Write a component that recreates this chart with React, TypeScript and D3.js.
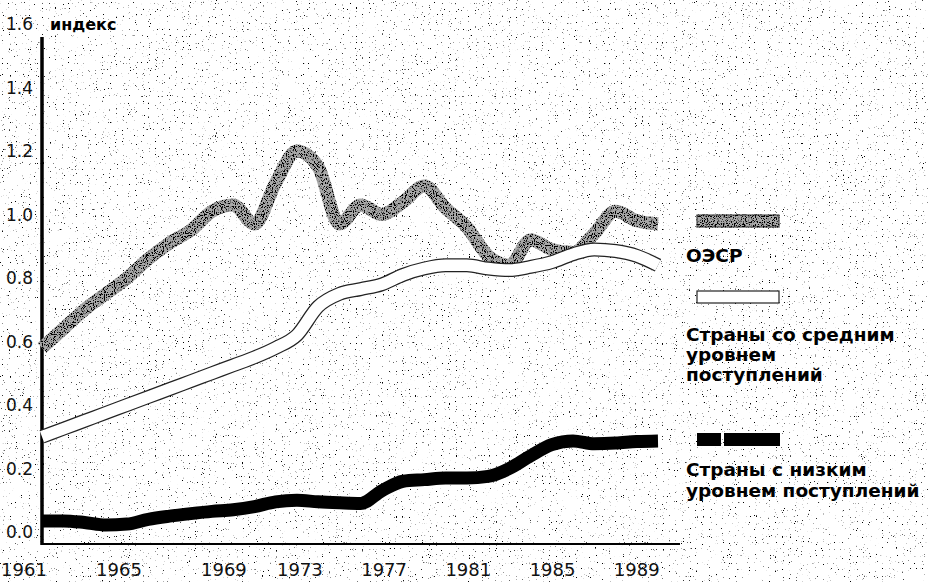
import React from "react";
import * as d3 from "d3";

const years = [1961,1962,1963,1964,1965,1966,1967,1968,1969,1970,1971,1972,1973,1974,1975,1976,1977,1978,1979,1980,1981,1982,1983,1984,1985,1986,1987,1988,1989,1990];
const oecd = [0.58,0.64,0.70,0.75,0.80,0.86,0.91,0.95,1.01,1.03,0.97,1.10,1.20,1.15,0.97,1.03,1.00,1.04,1.09,1.02,0.96,0.87,0.84,0.92,0.89,0.88,0.94,1.01,0.98,0.97];
const middleIncome = [0.30,0.325,0.35,0.375,0.40,0.425,0.45,0.475,0.50,0.525,0.55,0.58,0.62,0.71,0.75,0.765,0.78,0.81,0.83,0.84,0.84,0.83,0.825,0.835,0.85,0.875,0.89,0.885,0.87,0.84];
const lowIncome = [0.035,0.035,0.03,0.022,0.025,0.04,0.05,0.058,0.065,0.07,0.08,0.095,0.10,0.095,0.092,0.09,0.13,0.16,0.165,0.17,0.17,0.175,0.20,0.24,0.275,0.287,0.278,0.28,0.285,0.287];
const yTicks = [0, 0.2, 0.4, 0.6, 0.8, 1.0, 1.2, 1.4, 1.6];
const xTickYears = [1961, 1965, 1969, 1973, 1977, 1981, 1985, 1989];
const yAxisTitle = "индекс";
const legendOecd = ["ОЭСР"];
const legendMiddle = ["Страны со средним", "уровнем", "поступлений"];
const legendLow = ["Страны с низким", "уровнем поступлений"];

const W = 928, H = 582;

export default function App() {
  const x = d3.scaleLinear().domain([1961, 1990]).range([42, 658]);
  const y = d3.scaleLinear().domain([0, 1.6]).range([532, 24]);
  const labelX = d3.scaleLinear()
    .domain([1961, 1965, 1969, 1973, 1989])
    .range([x(1961) - 18, x(1965) - 8, x(1969) + 12, x(1973) + 3, x(1989)]);

  const line = (vals: number[]) =>
    d3.line<number>().x((_, i) => x(years[i])).y((d) => y(d)).curve(d3.curveMonotoneX)(vals) || "";

  const sans = "'DejaVu Sans', sans-serif";

  return (
    <svg width={W} height={H} style={{ position: "absolute", left: 0, top: 0, background: "#fff" }}>
      <defs>
        <filter id="speck" x="0" y="0" width="100%" height="100%">
          <feTurbulence type="fractalNoise" baseFrequency="0.85" numOctaves="1" seed="7" result="n" />
          <feColorMatrix in="n" type="matrix" values="0 0 0 0 0  0 0 0 0 0  0 0 0 0 0  14 0 0 0 -9.5" />
        </filter>
        <filter id="oecdTex" x="-5%" y="-20%" width="110%" height="140%">
          <feTurbulence type="fractalNoise" baseFrequency="0.9" numOctaves="1" seed="3" result="n" />
          <feColorMatrix in="n" type="matrix" values="0 0 0 0 0  0 0 0 0 0  0 0 0 0 0  -10 0 0 0 5" result="dark" />
          <feComposite in="dark" in2="SourceGraphic" operator="in" result="d2" />
          <feMerge>
            <feMergeNode in="SourceGraphic" />
            <feMergeNode in="d2" />
          </feMerge>
        </filter>
      </defs>
      <rect x={0} y={0} width={W} height={H} fill="#fff" />
      <rect x={0} y={0} width={W} height={H} fill="#fff" filter="url(#speck)" />

      {/* axes */}
      <line x1={42} x2={42} y1={37} y2={545} stroke="#000" strokeWidth={3.5} />
      <line x1={41} x2={680} y1={544} y2={544} stroke="#000" strokeWidth={2} />

      {yTicks.map((t) => (
        <text key={t} x={33} y={y(t)} dy="0.38em" textAnchor="end" fontFamily={sans} fontSize={17} fill="#111">
          {t.toFixed(1)}
        </text>
      ))}
      <text x={50} y={30} fontFamily={sans} fontSize={16} fontWeight="bold" fill="#000">{yAxisTitle}</text>

      {xTickYears.map((yr) => (
        <text key={yr} x={labelX(yr)} y={576} textAnchor="middle" fontFamily={sans} fontSize={18} fill="#111">
          {yr}
        </text>
      ))}

      {/* series */}
      <path d={line(oecd)} fill="none" stroke="#a8a8a8" strokeWidth={13} strokeLinejoin="round" filter="url(#oecdTex)" />
      <path d={line(middleIncome)} fill="none" stroke="#222" strokeWidth={14} strokeLinejoin="round" />
      <path d={line(middleIncome)} fill="none" stroke="#fff" strokeWidth={11.5} strokeLinejoin="round" />
      <path d={line(lowIncome)} fill="none" stroke="#000" strokeWidth={13} strokeLinejoin="round" />

      {/* legend */}
      <rect x={697} y={215} width={82} height={12} fill="#a8a8a8" stroke="#333" strokeWidth={1} filter="url(#oecdTex)" />
      {legendOecd.map((s, i) => (
        <text key={s} x={686} y={262 + i * 20} fontFamily={sans} fontSize={18.5} fontWeight="bold" fill="#000">{s}</text>
      ))}
      <rect x={697} y={291} width={82} height={12} fill="#fff" stroke="#222" strokeWidth={1.2} />
      {legendMiddle.map((s, i) => (
        <text key={s} x={686} y={341 + i * 20} fontFamily={sans} fontSize={18.5} fontWeight="bold" fill="#000">{s}</text>
      ))}
      <rect x={697} y={433} width={24} height={13} fill="#000" />
      <rect x={724} y={433} width={56} height={13} fill="#000" />
      {legendLow.map((s, i) => (
        <text key={s} x={686} y={476 + i * 21} fontFamily={sans} fontSize={18.5} fontWeight="bold" fill="#000">{s}</text>
      ))}
    </svg>
  );
}
